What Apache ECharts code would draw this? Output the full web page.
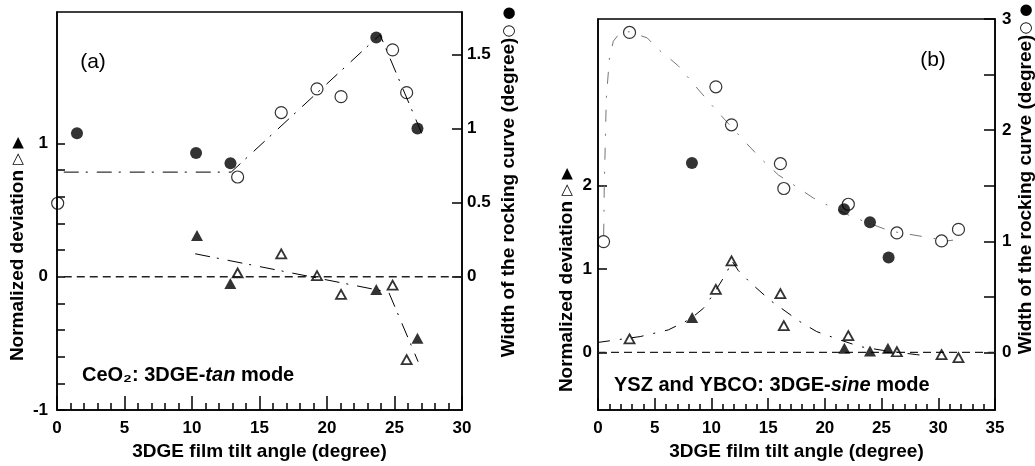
<!DOCTYPE html>
<html>
<head>
<meta charset="utf-8">
<script src="https://cdn.jsdelivr.net/npm/echarts@6/dist/echarts.min.js"></script>
<style>html,body{margin:0;padding:0;background:#fff}#c{width:1035px;height:466px}</style>
</head>
<body>
<div id="c"></div>
<script>
// ---------- Panel (a): CeO2, 3DGE-tan mode ----------
const aFilledCircles = [[1.48,0.969],[10.3,0.835],[12.85,0.766],[23.65,1.614],[26.7,1.0]];
const aOpenCircles = [[0.05,0.496],[13.38,0.673],[16.61,1.108],[19.26,1.268],[21.04,1.215],[24.86,1.531],[25.9,1.242]];
const aFilledTriangles = [[10.37,0.309],[12.84,-0.051],[23.65,-0.096],[26.7,-0.462]];
const aOpenTriangles = [[13.38,0.028],[16.61,0.172],[19.26,0.008],[21.04,-0.133],[24.86,-0.063],[25.9,-0.621]];
const aWidthFit = [[0.5,0.706],[12.9,0.706],[23.93,1.633],[27.04,0.962]];
const aDevFit = [[10.24,0.172],[24.57,-0.116],[26.75,-0.637]];
const aZero = [[0.5,0],[30,0]];
const aLeftTicks = [-1,-0.8,-0.6,-0.4,-0.2,0,0.2,0.4,0.6,0.8,1];
const aLeftLabels = [-1,0,1];
const aRightTicks = [0,0.5,1,1.5];

// ---------- Panel (b): YSZ and YBCO, 3DGE-sine mode ----------
const bOpenCircles = [[0.49,0.997],[2.78,2.879],[10.39,2.39],[11.77,2.048],[16.08,1.698],[16.38,1.475],[22.07,1.333],[26.35,1.075],[30.29,1.003],[31.78,1.107]];
const bFilledCircles = [[8.28,1.704],[21.69,1.288],[23.98,1.172],[25.62,0.855]];
const bFilledTriangles = [[8.3,0.42],[21.72,0.05],[23.98,0.016],[25.56,0.05]];
const bOpenTriangles = [[2.78,0.163],[10.39,0.756],[11.77,1.097],[16.08,0.705],[16.38,0.321],[22.07,0.202],[26.35,0.008],[30.29,-0.027],[31.78,-0.063]];
const bWidthFit = [[0.5,1.05],[0.55,1.48],[0.73,2.28],[1.0,2.64],[1.35,2.80],[1.96,2.88],[2.76,2.885],[4.34,2.83],[5.34,2.725],[6.37,2.64],[7.1,2.576],[8.57,2.398],[10.33,2.19],[12.82,1.91],[14.44,1.736],[15.9,1.597],[17.37,1.499],[18.99,1.389],[20.6,1.306],[22.5,1.217],[25.74,1.092],[27.5,1.062],[29.55,1.027],[30.73,1.003],[31.3,1.01]];
const bDevFit = [[0,0.12],[3.72,0.19],[6.2,0.27],[8.13,0.40],[9.3,0.53],[10.18,0.70],[11.36,0.96],[11.8,1.10],[12.38,0.98],[13.41,0.84],[15.17,0.626],[16.2,0.526],[17.81,0.368],[19.28,0.25],[21.33,0.15],[23.1,0.07],[25.15,0.024],[28.1,-0.027],[29,-0.04]];
const bZero = [[0,0],[35,0]];
const bLeftTicks = [0,1,2];
const bRightTicks = [0,0.5,1,1.5,2,2.5,3];
const bRightLabels = [0,1,2,3];

const FF = '"Liberation Sans", Arial, sans-serif';
const INK = '#000';

function xAxisCfg(gridIndex, max, len, minorLen) {
  return {
    type: 'value', gridIndex, min: 0, max, interval: 5,
    name: '3DGE film tilt angle (degree)', nameLocation: 'middle', nameGap: 31,
    nameTextStyle: {fontFamily: FF, fontWeight: 'bold', fontSize: 19, color: INK},
    axisLine: {show: true, onZero: false, lineStyle: {color: INK, width: 1.5}},
    axisTick: {show: true, inside: true, length: len, lineStyle: {color: INK, width: 1.5}},
    minorTick: {show: true, splitNumber: 5, length: minorLen, lineStyle: {color: INK, width: 1.5}},
    axisLabel: {fontFamily: FF, fontWeight: 'bold', fontSize: 17, color: INK, margin: 10},
    splitLine: {show: false}, minorSplitLine: {show: false}
  };
}
function yAxisCfg(gridIndex, position, min, max, ticks, labels, len, margin) {
  return {
    type: 'value', gridIndex, position, min, max,
    axisLine: {show: true, onZero: false, lineStyle: {color: INK, width: 1.5}},
    axisTick: {show: true, inside: true, length: len, customValues: ticks, lineStyle: {color: INK, width: 1.5}},
    axisLabel: {fontFamily: FF, fontWeight: 'bold', fontSize: 17, color: INK, margin, customValues: labels},
    splitLine: {show: false}
  };
}
function scatter(data, xi, yi, symbol, size, filled) {
  return {
    type: 'scatter', data, xAxisIndex: xi, yAxisIndex: yi, symbol, symbolSize: size, z: 5,
    itemStyle: filled ? {color: INK} : {color: 'rgba(0,0,0,0)', borderColor: INK, borderWidth: symbol === 'circle' ? 1.2 : 1.8},
    silent: true
  };
}
function fit(data, xi, yi, color, dash, width) {
  return {
    type: 'line', data, xAxisIndex: xi, yAxisIndex: yi, symbol: 'none', z: 3, silent: true,
    lineStyle: {color, width: width || 1, type: dash}
  };
}
function vText(x, y, text, symSize) {
  return {type: 'text', x, y, rotation: Math.PI / 2, style: {
    text, fontFamily: FF, fontWeight: 'bold', fontSize: 19, fill: INK, align: 'center', verticalAlign: 'middle',
    rich: {s: {fontFamily: '"DejaVu Sans"', fontSize: symSize, fill: INK}}}};
}

const chart = echarts.init(document.getElementById('c'), null, {renderer: 'canvas'});
chart.setOption({
  animation: false,
  backgroundColor: '#fff',
  grid: [
    {left: 57, top: 12, width: 405, height: 401, show: true, borderColor: INK, borderWidth: 1.5, backgroundColor: 'transparent'},
    {left: 598, top: 19, width: 397, height: 395, show: true, borderColor: INK, borderWidth: 1.5, backgroundColor: 'transparent'}
  ],
  xAxis: [xAxisCfg(0, 30, 14, 7), xAxisCfg(1, 35, 12, 6)],
  yAxis: [
    yAxisCfg(0, 'left', -1, 1.985, aLeftTicks, aLeftLabels, 8, 9),
    yAxisCfg(0, 'right', -0.9, 1.7865, aRightTicks, aRightTicks, 10, 5),
    yAxisCfg(1, 'left', -0.692, 4, bLeftTicks, bLeftTicks, 9, 6),
    yAxisCfg(1, 'right', -0.519, 3, bRightTicks, bRightLabels, 11, 7)
  ],
  series: [
    fit(aZero, 0, 0, '#222', [8, 5], 1.3),
    fit(aWidthFit, 0, 1, INK, [15, 7, 2, 9]),
    fit(aDevFit, 0, 0, INK, [15, 7, 2, 9]),
    scatter(aFilledCircles, 0, 1, 'circle', 12, true),
    scatter(aOpenCircles, 0, 1, 'circle', 12, false),
    scatter(aFilledTriangles, 0, 0, 'triangle', [12, 11], true),
    scatter(aOpenTriangles, 0, 0, 'triangle', [10, 9], false),

    fit(bZero, 1, 2, '#222', [8, 5], 1.3),
    fit(bWidthFit, 1, 3, '#777', [12, 12, 2, 12]),
    fit(bDevFit, 1, 2, INK, [12, 10, 2, 10]),
    scatter(bOpenCircles, 1, 3, 'circle', 12, false),
    scatter(bFilledCircles, 1, 3, 'circle', 12, true),
    scatter(bFilledTriangles, 1, 2, 'triangle', [12, 11], true),
    scatter(bOpenTriangles, 1, 2, 'triangle', [10, 9], false)
  ],
  graphic: [
    {type: 'text', x: 93, y: 62, style: {text: '(a)', fontFamily: FF, fontSize: 21, fill: INK, align: 'center', verticalAlign: 'middle'}},
    {type: 'text', x: 933, y: 60, style: {text: '(b)', fontFamily: FF, fontSize: 21, fill: INK, align: 'center', verticalAlign: 'middle'}},
    {type: 'text', x: 82, y: 375, style: {
      text: 'CeO₂: 3DGE-{it|tan} mode', fontFamily: FF, fontWeight: 'bold', fontSize: 20, fill: INK, verticalAlign: 'middle',
      rich: {it: {fontFamily: FF, fontWeight: 'bold', fontStyle: 'italic', fontSize: 20, fill: INK}}}},
    {type: 'text', x: 614, y: 385, style: {
      text: 'YSZ and YBCO: 3DGE-{it|sine} mode', fontFamily: FF, fontWeight: 'bold', fontSize: 20, fill: INK, verticalAlign: 'middle',
      rich: {it: {fontFamily: FF, fontWeight: 'bold', fontStyle: 'italic', fontSize: 20, fill: INK}}}},
    vText(18, 249, 'Normalized deviation {s|▷ ▶}', 15),
    vText(567, 280, 'Normalized deviation {s|▷ ▶}', 15),
    vText(509, 182, 'Width of the rocking curve (degree){s|○ ●}', 15),
    vText(1026, 179, 'Width of the rocking curve (degree){s|○ ●}', 15)
  ]
});
</script>
</body>
</html>
